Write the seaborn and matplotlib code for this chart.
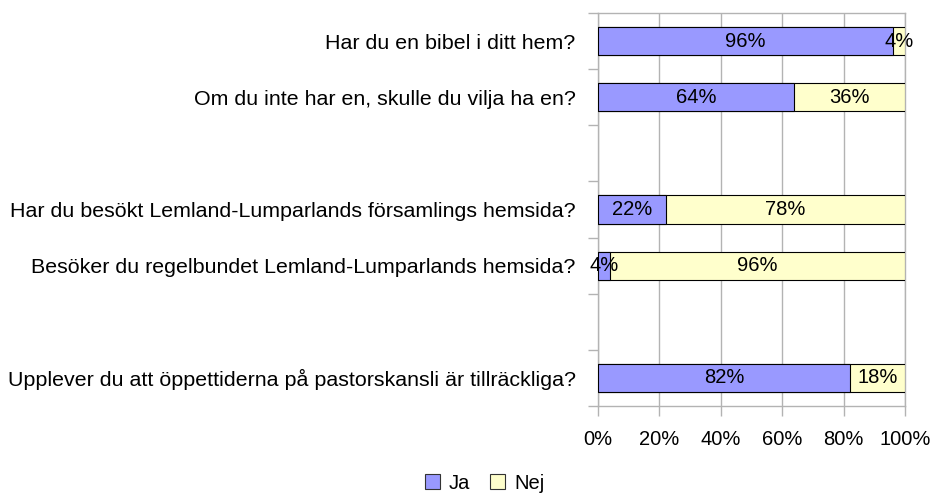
import pandas as pd
import seaborn as sns
import matplotlib.pyplot as plt
import numpy as np

# Survey questions (blank entries are empty rows in the chart)
questions = [
    'Har du en bibel i ditt hem?',
    'Om du inte har en, skulle du vilja ha en?',
    ' ',
    'Har du besökt Lemland-Lumparlands församlings hemsida?',
    'Besöker du regelbundet Lemland-Lumparlands hemsida?',
    '  ',
    'Upplever du att öppettiderna på pastorskansli är tillräckliga?',
]
ja = [96, 64, np.nan, 22, 4, np.nan, 82]
nej = [4, 36, np.nan, 78, 96, np.nan, 18]
x_ticks = [0, 20, 40, 60, 80, 100]

ja_color = '#9999ff'
nej_color = '#ffffcc'

df = pd.DataFrame({'question': questions, 'Ja': ja, 'Nej': nej})
df['total'] = df['Ja'] + df['Nej']

sns.set_style('white')
plt.rcParams['font.family'] = ['Liberation Sans', 'DejaVu Sans']
plt.rcParams['text.color'] = 'black'
plt.rcParams['xtick.color'] = 'black'
plt.rcParams['ytick.color'] = 'black'

fs = 14.5

fig = plt.figure(figsize=(9.32, 4.96), dpi=100)
ax = fig.add_axes([0.6416, 0.1815, 0.9710 - 0.6416, 0.9738 - 0.1815])

# Stacked bars: draw the full total (Nej colour) first, then Ja on top
sns.barplot(data=df, x='total', y='question', order=questions, orient='h',
            color=nej_color, saturation=1, width=0.5,
            edgecolor='black', linewidth=0.8, ax=ax, zorder=3)
sns.barplot(data=df, x='Ja', y='question', order=questions, orient='h',
            color=ja_color, saturation=1, width=0.5,
            edgecolor='black', linewidth=0.8, ax=ax, zorder=4)

# Percent labels centred in each segment
for i, row in df.iterrows():
    if np.isnan(row['Ja']):
        continue
    ax.text(row['Ja'] / 2, i, f"{row['Ja']:.0f}%", ha='center', va='center',
            fontsize=fs, zorder=5)
    ax.text(row['Ja'] + row['Nej'] / 2, i, f"{row['Nej']:.0f}%", ha='center',
            va='center', fontsize=fs, zorder=5)

ax.set_xlim(0, 100)
ax.set_ylim(len(questions) - 0.5, -0.5)
ax.set_xticks(x_ticks)
ax.set_xticklabels([f'{t}%' for t in x_ticks], fontsize=fs)
ax.set_yticks(range(len(questions)))
ax.set_yticklabels(questions, fontsize=15.4)
ax.set_yticks(np.arange(-0.5, len(questions)), minor=True)
ax.tick_params(axis='y', which='major', left=True, length=0, pad=16)
ax.tick_params(axis='y', which='minor', left=True, length=7, color='#b3b3b3',
               width=1, direction='out')
ax.tick_params(axis='x', bottom=True, length=7.5, color='#b3b3b3', width=1,
               direction='out', pad=10, labelcolor='black')
ax.set_xlabel('')
ax.set_ylabel('')

ax.grid(axis='x', color='#b3b3b3', linewidth=1, zorder=0)
ax.set_axisbelow(True)
for side in ['top', 'right', 'bottom', 'left']:
    ax.spines[side].set_visible(True)
    ax.spines[side].set_color('#b3b3b3')
    ax.spines[side].set_linewidth(1)

handles = [plt.Rectangle((0, 0), 1, 1, facecolor=ja_color, edgecolor='#333333', linewidth=0.8),
           plt.Rectangle((0, 0), 1, 1, facecolor=nej_color, edgecolor='#333333', linewidth=0.8)]
fig.legend(handles, ['Ja', 'Nej'], loc='center', bbox_to_anchor=(0.52, 0.026),
           ncol=2, frameon=False, fontsize=fs, handlelength=0.75, handleheight=0.75,
           handletextpad=0.45, columnspacing=1.0, borderpad=0)

fig.savefig('out.png', dpi=100)
